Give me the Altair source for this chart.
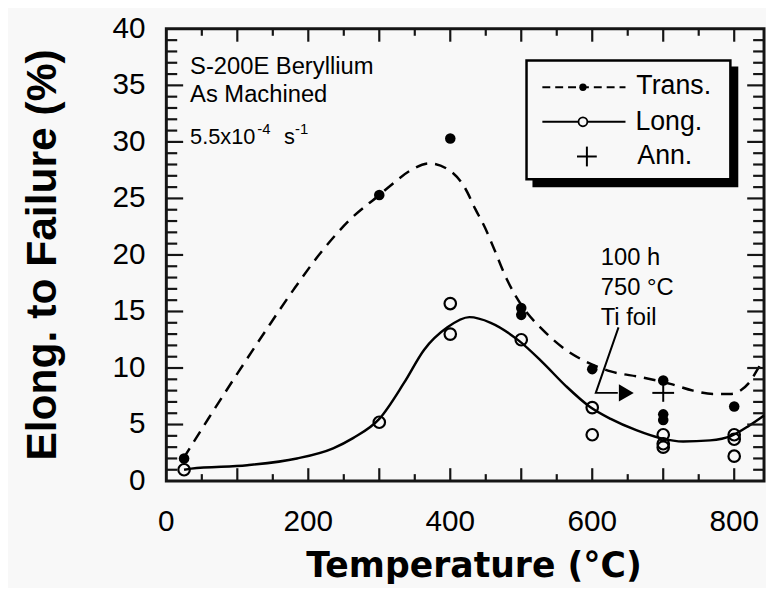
import altair as alt
import pandas as pd

# ---------------- data ----------------
trans_T = [25, 300, 400, 500, 500, 600, 700, 700, 700, 800]
trans_v = [2.0, 25.3, 30.3, 15.3, 14.7, 9.9, 8.9, 5.9, 5.4, 6.6]

long_T = [25, 300, 400, 400, 500, 600, 600, 700, 700, 700, 800, 800, 800]
long_v = [1.0, 5.2, 15.7, 13.0, 12.5, 6.5, 4.1, 4.1, 3.3, 3.0, 4.1, 3.7, 2.2]

ann_T = [700]
ann_v = [7.8]

trans_curve_T = [24, 60, 100, 141, 180, 220, 260, 300, 319, 342, 370, 396, 421, 435,
                 449, 460, 480, 502, 530, 563, 590, 626, 668, 710, 742, 770, 794, 821, 835, 842]
trans_curve_v = [2.0, 5.6, 9.5, 13.4, 17.0, 20.4, 23.2, 25.3, 26.3, 27.4, 28.1, 27.6, 25.9, 24.1,
                 22.4, 20.8, 17.8, 15.4, 13.4, 11.6, 10.6, 9.7, 9.2, 8.6, 8.0, 7.7, 7.7, 8.7, 10.1, 10.8]

long_curve_T = [25, 35, 114, 184, 235, 263, 300, 335, 363, 396, 427, 457, 497, 530, 563,
                596, 626, 662, 696, 728, 766, 796, 821, 842]
long_curve_v = [1.0, 1.1, 1.4, 2.0, 2.9, 3.8, 5.5, 8.7, 11.6, 13.6, 14.5, 14.0, 12.4, 10.5, 8.4,
                6.6, 5.5, 4.5, 3.8, 3.5, 3.6, 4.0, 4.9, 5.8]

arrow_T = [637, 605, 636]
arrow_v = [13.6, 7.8, 7.8]
arrow_head_T = [648]
arrow_head_v = [7.8]

x_labels = [0, 200, 400, 600, 800]
y_labels = [0, 5, 10, 15, 20, 25, 30, 35, 40]
x_tick_major = [100, 200, 300, 400, 500, 600, 700, 800]
x_tick_minor = [50, 150, 250, 350, 450, 550, 650, 750]
y_tick_major = [5, 10, 15, 20, 25, 30, 35]
y_tick_minor = [v for v in range(1, 40) if v % 5 != 0]

# ---------------- layout / style ----------------
W, H = 604, 457
XMAX = 842
YMAX = 40
KX = W / XMAX   # px per degree
KY = H / YMAX   # px per percent
FONT = "Liberation Sans"
BG = "#f8f8f8"
INK = "#151515"

xs = alt.Scale(domain=[0, XMAX], nice=False, zero=False)
ys = alt.Scale(domain=[0, YMAX], nice=False, zero=False)


def X(field="T"):
    return alt.X(f"{field}:Q", scale=xs, axis=None)


def Y(field="v"):
    return alt.Y(f"{field}:Q", scale=ys, axis=None)


def segs(df, width, color="#000000"):
    return alt.Chart(df).mark_rule(color=color, strokeWidth=width).encode(
        x=X(), x2=alt.X2("T2:Q"), y=Y(), y2=alt.Y2("v2:Q"))


one = alt.Data(values=[{"a": 1}])


def prule(x, y, x2, width=2, dash=None):
    kw = dict(color="black", strokeWidth=width)
    if dash:
        kw["strokeDash"] = dash
    return alt.Chart(one).mark_rule(**kw).encode(x=alt.value(x), x2=alt.value(x2), y=alt.value(y))


def vrule(x, y, y2, width=2):
    return alt.Chart(one).mark_rule(color="black", strokeWidth=width).encode(
        x=alt.value(x), y=alt.value(y), y2=alt.value(y2))


def prect(x, x2, y, y2, **kw):
    return alt.Chart(one).mark_rect(**kw).encode(
        x=alt.value(x), x2=alt.value(x2), y=alt.value(y), y2=alt.value(y2))


def ptext(txt, x, y, size, bold=False, font=FONT, angle=None, align="left"):
    kw = dict(text=txt, align=align, baseline="alphabetic", font=font, fontSize=size,
              color="black", fontWeight="bold" if bold else "normal")
    if angle is not None:
        kw["angle"] = angle
    return alt.Chart(one).mark_text(**kw).encode(x=alt.value(x), y=alt.value(y))


layers = []

# tick labels (positions through the scales)
xl = pd.DataFrame({"T": x_labels, "lab": [str(t) for t in x_labels]})
yl = pd.DataFrame({"v": y_labels, "lab": [str(v) for v in y_labels]})
layers.append(alt.Chart(xl).mark_text(font=FONT, fontSize=30, baseline="top", align="center", color="black")
              .encode(x=X(), y=alt.value(H + 26), text="lab:N"))
layers.append(alt.Chart(yl).mark_text(font=FONT, fontSize=30, baseline="middle", align="right", color="black")
              .encode(y=Y(), x=alt.value(-21), text="lab:N"))

# curves
tc = pd.DataFrame({"T": trans_curve_T, "v": trans_curve_v})
lc = pd.DataFrame({"T": long_curve_T, "v": long_curve_v})
layers.append(alt.Chart(tc).mark_line(interpolate="monotone", color="black", strokeWidth=2.5,
                                      strokeDash=[12, 8]).encode(x=X(), y=Y()))
layers.append(alt.Chart(lc).mark_line(interpolate="monotone", color="black", strokeWidth=2.5)
              .encode(x=X(), y=Y()))

# points
tp = pd.DataFrame({"T": trans_T, "v": trans_v})
lp = pd.DataFrame({"T": long_T, "v": long_v})
layers.append(alt.Chart(tp).mark_point(shape="circle", filled=True, size=113, color="black", opacity=1)
              .encode(x=X(), y=Y()))
layers.append(alt.Chart(lp).mark_point(shape="circle", filled=False, size=135, color="black",
                                       strokeWidth=2.2, opacity=1).encode(x=X(), y=Y()))

# "+" marker for the annealed specimen, built from two strokes around the data point
plus_rows = []
for t, v in zip(ann_T, ann_v):
    plus_rows.append({"T": t - 11 / KX, "T2": t + 11 / KX, "v": v, "v2": v})
    plus_rows.append({"T": t, "T2": t, "v": v - 9 / KY, "v2": v + 9 / KY})
layers.append(segs(pd.DataFrame(plus_rows), 2))

# annotation arrow
arr = pd.DataFrame({"T": arrow_T, "v": arrow_v, "o": [0, 1, 2]})
layers.append(alt.Chart(arr).mark_line(color="black", strokeWidth=2)
              .encode(x=X(), y=Y(), order="o:Q"))
ah = pd.DataFrame({"T": arrow_head_T, "v": arrow_head_v})
layers.append(alt.Chart(ah).mark_point(shape="triangle-right", filled=True, size=300,
                                       color="black", opacity=1).encode(x=X(), y=Y()))
layers.append(ptext("100 h", 439, 239, 24))
layers.append(ptext("750 °C", 439, 269, 24))
layers.append(ptext("Ti foil", 439, 299, 24))

# in-plot labels
layers.append(ptext("S-200E Beryllium", 24, 46, 24))
layers.append(ptext("As Machined", 24, 74, 24))
layers.append(ptext("5.5x10", 24, 116, 22))
layers.append(ptext("-4", 92, 106, 15))
layers.append(ptext("s", 119, 116, 22))
layers.append(ptext("-1", 130, 106, 15))

# legend box with shadow
layers.append(prect(370, 578, 38, 160, color="black"))
layers.append(prect(364, 570, 32, 152, fill=BG, stroke="black", strokeWidth=2.5))
layers.append(prule(380, 59, 464, width=2, dash=[8, 5]))
layers.append(alt.Chart(one).mark_point(shape="circle", filled=True, size=55, color="black", opacity=1)
              .encode(x=alt.value(421), y=alt.value(59)))
layers.append(prule(380, 94, 464, width=2))
layers.append(alt.Chart(one).mark_point(shape="circle", filled=True, size=80, fill=BG,
                                        stroke="black", strokeWidth=1.8, opacity=1)
              .encode(x=alt.value(421), y=alt.value(94)))
layers.append(prule(415, 129, 435, width=2))
layers.append(vrule(425, 119, 139, width=2))
layers.append(ptext("Trans.", 475, 66, 27))
layers.append(ptext("Long.", 474, 102, 27))
layers.append(ptext("Ann.", 476, 137, 27))

# axis titles
layers.append(ptext("Elong. to Failure (%)", -111, H / 2, 43, bold=True, angle=270, align="center"))
layers.append(ptext("Temperature  (°C)", 311, 554, 35, bold=True, font="DejaVu Sans", align="center"))

# inward ticks (positions through the scales), drawn last
tick_rows = []
for vals, ln in [(y_tick_major, 17), (y_tick_minor, 11)]:
    for v in vals:
        tick_rows.append({"T": 0, "T2": ln / KX, "v": v, "v2": v})
        tick_rows.append({"T": XMAX, "T2": XMAX - ln / KX, "v": v, "v2": v})
for vals, ln in [(x_tick_major, 13), (x_tick_minor, 7)]:
    for t in vals:
        tick_rows.append({"T": t, "T2": t, "v": 0, "v2": ln / KY})
        tick_rows.append({"T": t, "T2": t, "v": YMAX, "v2": YMAX - ln / KY})
layers.append(segs(pd.DataFrame(tick_rows), 2.2, INK))

chart = alt.layer(*layers).properties(
    width=W, height=H,
    autosize=alt.AutoSizeParams(type="none"),
    padding={"left": 160, "top": 18, "right": 2, "bottom": 105},
    background=BG,
).configure_view(stroke=INK, strokeWidth=3)

chart.save("out.html", embed_options={"renderer": "svg", "actions": False})
